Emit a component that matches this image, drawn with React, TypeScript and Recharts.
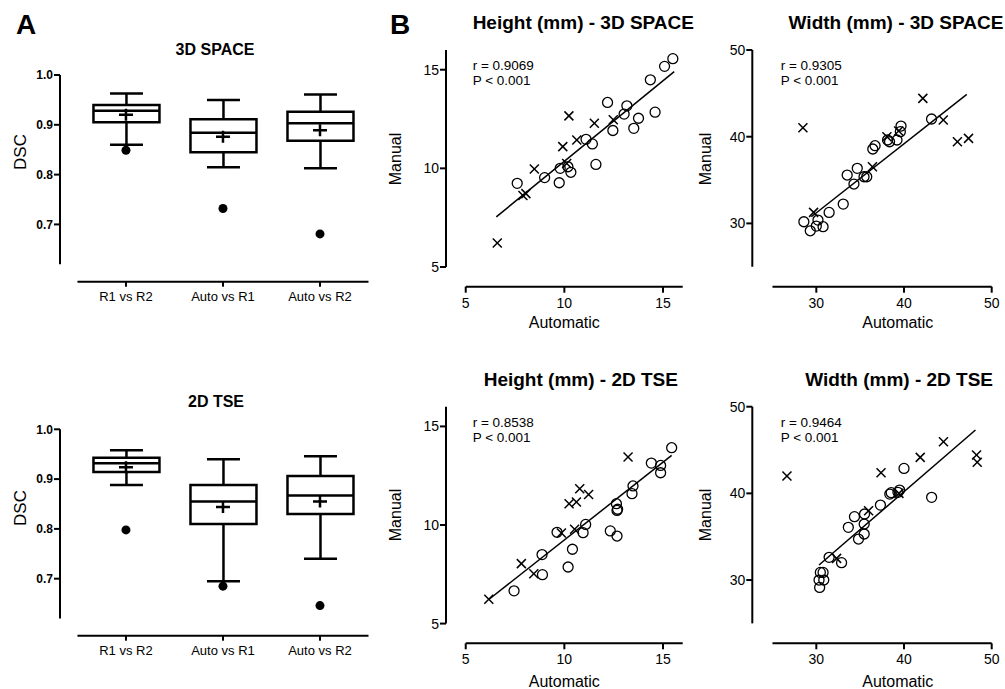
import React from "react";
import { Bar, ComposedChart, ReferenceLine, Scatter, XAxis, YAxis } from "recharts";

const FONT = "'Liberation Sans', Arial, Helvetica, sans-serif";

// ---- panel A: DSC box plots ----
const categories = ["R1 vs R2", "Auto vs R1", "Auto vs R2"];
const catPos = [1, 2, 3];
const dscTicks = [0.7, 0.8, 0.9, 1.0];

const space3dMin = [0.86, 0.815, 0.813];
const space3dQ1 = [0.905, 0.845, 0.868];
const space3dMedian = [0.928, 0.884, 0.903];
const space3dQ3 = [0.94, 0.911, 0.926];
const space3dMax = [0.963, 0.95, 0.961];
const space3dMean = [0.92, 0.876, 0.889];
const space3dOutlier = [0.849, 0.732, 0.681];

const tse2dMin = [0.888, 0.695, 0.74];
const tse2dQ1 = [0.914, 0.81, 0.83];
const tse2dMedian = [0.932, 0.855, 0.867];
const tse2dQ3 = [0.943, 0.888, 0.906];
const tse2dMax = [0.958, 0.94, 0.946];
const tse2dMean = [0.924, 0.844, 0.855];
const tse2dOutlier = [0.798, 0.685, 0.646];

// ---- panel B: automatic vs manual, [automatic, manual] ----
const heightTicks = [5, 10, 15];
const widthTicks = [30, 40, 50];

const h3dCircles = [
  [7.61, 9.24], [9.0, 9.53], [9.74, 9.27], [9.79, 10.0], [10.18, 10.08], [10.33, 9.8],
  [11.1, 11.47], [11.42, 11.24], [11.6, 10.2], [12.19, 13.34], [12.46, 11.92], [13.03, 12.75],
  [13.17, 13.17], [13.52, 12.03], [13.76, 12.54], [14.36, 14.49], [14.6, 12.85], [15.08, 15.17],
  [15.5, 15.56],
];
const h3dCrosses = [
  [6.6, 6.22], [7.9, 8.62], [8.05, 8.72], [8.48, 9.97], [9.92, 11.1], [10.23, 12.66],
  [10.12, 10.25], [10.63, 11.44], [11.52, 12.29], [12.48, 12.46],
];
const h3dFit = [[6.55, 7.54], [15.57, 14.9]];

const w3dCircles = [
  [28.58, 30.19], [29.31, 29.15], [30.0, 29.69], [30.19, 30.38], [30.77, 29.62], [31.46, 31.27],
  [33.07, 32.23], [33.52, 35.58], [34.29, 34.54], [34.67, 36.35], [35.44, 35.38], [35.75, 35.38],
  [36.44, 38.58], [36.7, 38.96], [38.12, 39.62], [38.35, 39.42], [39.2, 39.62], [39.66, 41.23],
  [39.58, 40.58], [43.14, 42.04],
];
const w3dCrosses = [
  [28.47, 41.04], [29.69, 31.27], [36.4, 36.54], [38.05, 40.0], [39.39, 40.65],
  [42.15, 44.42], [44.48, 41.92], [46.09, 39.42], [47.36, 39.81],
];
const w3dFit = [[29.43, 30.77], [47.16, 44.88]];

const h2dCircles = [
  [7.45, 6.66], [8.87, 8.5], [8.89, 7.48], [9.63, 9.63], [10.19, 7.87], [10.41, 8.77],
  [10.95, 9.61], [11.08, 10.03], [12.33, 9.7], [12.67, 9.44], [12.64, 11.08], [12.67, 10.74],
  [12.7, 10.8], [13.43, 11.59], [13.48, 11.98], [14.41, 13.14], [14.88, 13.02], [14.88, 12.65],
  [15.44, 13.92],
];
const h2dCrosses = [
  [6.17, 6.23], [7.82, 8.04], [8.45, 7.53], [9.85, 9.59], [10.24, 11.08], [10.61, 11.17],
  [10.78, 11.84], [11.23, 11.55], [10.52, 9.78], [13.23, 13.45],
];
const h2dFit = [[6.17, 6.22], [15.44, 13.53]];

const w2dCircles = [
  [30.38, 29.15], [30.31, 30.0], [30.46, 30.88], [30.85, 30.0], [30.77, 30.88], [31.46, 32.62],
  [32.88, 32.0], [33.65, 36.08], [34.35, 37.31], [34.81, 34.73], [35.46, 35.31], [35.46, 36.46],
  [35.5, 37.62], [37.31, 38.65], [38.38, 39.92], [38.54, 40.08], [39.31, 40.12], [39.5, 40.38],
  [40.0, 42.88], [43.15, 39.54],
];
const w2dCrosses = [
  [26.65, 42.0], [32.31, 32.5], [35.96, 38.0], [37.38, 42.38], [39.42, 40.0],
  [41.85, 44.15], [44.5, 45.96], [48.27, 44.42], [48.35, 43.58],
];
const w2dFit = [[30.31, 31.73], [48.15, 47.31]];

const BOX_X0 = 0.32;

const boxRows = (mn: number[], q1: number[], md: number[], q3: number[], mx: number[], mean: number[], out: number[]) =>
  catPos.map((p, i) => ({
    pos: p,
    whisker: [mn[i], mx[i]],
    box: [q1[i], q3[i]],
    median: md[i],
    mean: mean[i],
    outlier: out[i],
  }));

const toRows = (pts: number[][]) => pts.map(([x, y]) => ({ x, y }));

function Txt({ x, y, size, bold, rotate, left, children }: any) {
  return (
    <div
      style={{
        position: "absolute",
        left: x,
        top: y,
        transform: `translate(${left ? "0" : "-50%"}, -50%)${rotate ? " rotate(-90deg)" : ""}`,
        fontSize: size,
        fontWeight: bold ? 700 : 400,
        fontFamily: FONT,
        lineHeight: 1,
        whiteSpace: "nowrap",
        color: "#000",
      }}
    >
      {children}
    </div>
  );
}

const Whisker = (props: any) => {
  const { x, y, width, height } = props;
  const cx = x + width / 2;
  const cap = width / 4;
  return (
    <g stroke="#000" strokeWidth={2.5}>
      <line x1={cx} x2={cx} y1={y} y2={y + height} />
      <line x1={cx - cap} x2={cx + cap} y1={y} y2={y} />
      <line x1={cx - cap} x2={cx + cap} y1={y + height} y2={y + height} />
    </g>
  );
};
const MedianMark = ({ cx, cy }: any) => (
  <line x1={cx - 33} x2={cx + 33} y1={cy} y2={cy} stroke="#000" strokeWidth={2.5} />
);
const MeanMark = ({ cx, cy }: any) => (
  <g stroke="#000" strokeWidth={2.5}>
    <line x1={cx - 7} x2={cx + 7} y1={cy} y2={cy} />
    <line x1={cx} x2={cx} y1={cy - 6} y2={cy + 6} />
  </g>
);
const OutlierMark = ({ cx, cy }: any) => <circle cx={cx} cy={cy} r={4.5} fill="#000" />;
const OpenCircle = ({ cx, cy }: any) => <circle cx={cx} cy={cy} r={5} fill="none" stroke="#000" strokeWidth={1.3} />;
const CrossMark = ({ cx, cy }: any) => (
  <g stroke="#000" strokeWidth={1.5}>
    <line x1={cx - 4.5} x2={cx + 4.5} y1={cy - 4.5} y2={cy + 4.5} />
    <line x1={cx - 4.5} x2={cx + 4.5} y1={cy + 4.5} y2={cy - 4.5} />
  </g>
);

function BoxPanel({ left, top, width, height, margin, yDomain, rows }: any) {
  const axisProps = {
    type: "number" as const,
    dataKey: "pos",
    domain: [BOX_X0, 3.5],
    ticks: catPos,
    allowDataOverflow: true,
  };
  return (
    <div style={{ position: "absolute", left, top }}>
      <ComposedChart width={width} height={height} data={rows} margin={margin}>
        <XAxis
          xAxisId="main"
          {...axisProps}
          interval={0}
          tickFormatter={(v: number) => categories[v - 1]}
          axisLine={false}
          tickLine={{ stroke: "#000", strokeWidth: 2 }}
          tickSize={5}
          tickMargin={5}
          tick={{ fill: "#000", fontSize: 13, fontFamily: FONT }}
          height={30}
        />
        <XAxis xAxisId="w" {...axisProps} hide />
        <YAxis
          type="number"
          domain={yDomain}
          ticks={dscTicks}
          allowDataOverflow
          tickFormatter={(v: number) => v.toFixed(1)}
          axisLine={false}
          tickLine={{ stroke: "#000", strokeWidth: 2 }}
          tickSize={6}
          tickMargin={1}
          tick={{ fill: "#000", fontSize: 12, fontWeight: 700, fontFamily: FONT }}
          width={45}
        />
        <ReferenceLine
          xAxisId="main"
          segment={[{ x: 0.5, y: yDomain[0] }, { x: 3.5, y: yDomain[0] }]}
          stroke="#000"
          strokeWidth={2}
          ifOverflow="visible"
        />
        <ReferenceLine
          xAxisId="main"
          segment={[{ x: BOX_X0, y: 0.62 }, { x: BOX_X0, y: 1.0 }]}
          stroke="#000"
          strokeWidth={2}
          ifOverflow="visible"
        />
        <Bar xAxisId="w" dataKey="whisker" barSize={66} shape={Whisker} isAnimationActive={false} />
        <Bar xAxisId="main" dataKey="box" barSize={66} fill="#fff" stroke="#000" strokeWidth={2.5} isAnimationActive={false} />
        <Scatter xAxisId="main" dataKey="median" shape={MedianMark} isAnimationActive={false} />
        <Scatter xAxisId="main" dataKey="mean" shape={MeanMark} isAnimationActive={false} />
        <Scatter xAxisId="main" dataKey="outlier" shape={OutlierMark} isAnimationActive={false} />
      </ComposedChart>
    </div>
  );
}

function ScatterPanel({ left, top, width, height, margin, domain, ticks, axisStart, circles, crosses, fit }: any) {
  const tickStyle = { fill: "#000", fontSize: 14, fontFamily: FONT };
  return (
    <div style={{ position: "absolute", left, top }}>
      <ComposedChart width={width} height={height} margin={margin}>
        <XAxis
          type="number"
          dataKey="x"
          domain={domain}
          ticks={ticks}
          allowDataOverflow
          axisLine={false}
          tickLine={{ stroke: "#000", strokeWidth: 2 }}
          tickSize={6}
          tickMargin={5}
          tick={tickStyle}
          height={30}
        />
        <YAxis
          type="number"
          dataKey="y"
          domain={domain}
          ticks={ticks}
          allowDataOverflow
          axisLine={false}
          tickLine={{ stroke: "#000", strokeWidth: 2 }}
          tickSize={6}
          tickMargin={1}
          tick={tickStyle}
          width={40}
        />
        <ReferenceLine
          segment={[{ x: axisStart, y: domain[0] }, { x: domain[1], y: domain[0] }]}
          stroke="#000"
          strokeWidth={2}
          ifOverflow="visible"
        />
        <ReferenceLine
          segment={[{ x: domain[0], y: axisStart }, { x: domain[0], y: domain[1] }]}
          stroke="#000"
          strokeWidth={2}
          ifOverflow="visible"
        />
        <Scatter data={toRows(fit)} dataKey="y" line={{ stroke: "#000", strokeWidth: 1.5 }} shape={() => <g />} isAnimationActive={false} />
        <Scatter data={toRows(circles)} dataKey="y" shape={OpenCircle} isAnimationActive={false} />
        <Scatter data={toRows(crosses)} dataKey="y" shape={CrossMark} isAnimationActive={false} />
      </ComposedChart>
    </div>
  );
}

export default function App() {
  return (
    <div style={{ position: "absolute", left: 0, top: 0, width: 1005, height: 689, background: "#fff", overflow: "hidden" }}>
      <BoxPanel
        left={0}
        top={0}
        width={380}
        height={340}
        margin={{ top: 75, right: 11.5, bottom: 28.3, left: 15 }}
        yDomain={[0.585, 1.0]}
        rows={boxRows(space3dMin, space3dQ1, space3dMedian, space3dQ3, space3dMax, space3dMean, space3dOutlier)}
      />
      <BoxPanel
        left={0}
        top={340}
        width={380}
        height={349}
        margin={{ top: 89.3, right: 11.5, bottom: 23.3, left: 15 }}
        yDomain={[0.5855, 1.0]}
        rows={boxRows(tse2dMin, tse2dQ1, tse2dMedian, tse2dQ3, tse2dMax, tse2dMean, tse2dOutlier)}
      />
      <ScatterPanel
        left={380}
        top={0}
        width={310}
        height={340}
        margin={{ top: 50, right: 7.3, bottom: 23.3, left: 26 }}
        domain={[4, 16]}
        ticks={heightTicks}
        axisStart={5}
        circles={h3dCircles}
        crosses={h3dCrosses}
        fit={h3dFit}
      />
      <ScatterPanel
        left={690}
        top={0}
        width={315}
        height={340}
        margin={{ top: 50, right: 13.3, bottom: 23.3, left: 22.3 }}
        domain={[22.7, 50]}
        ticks={widthTicks}
        axisStart={25}
        circles={w3dCircles}
        crosses={w3dCrosses}
        fit={w3dFit}
      />
      <ScatterPanel
        left={380}
        top={340}
        width={310}
        height={349}
        margin={{ top: 66.7, right: 7.3, bottom: 15.7, left: 26 }}
        domain={[4, 16]}
        ticks={heightTicks}
        axisStart={5}
        circles={h2dCircles}
        crosses={h2dCrosses}
        fit={h2dFit}
      />
      <ScatterPanel
        left={690}
        top={340}
        width={315}
        height={349}
        margin={{ top: 66.7, right: 13.3, bottom: 15.7, left: 22.3 }}
        domain={[22.7, 50]}
        ticks={widthTicks}
        axisStart={25}
        circles={w2dCircles}
        crosses={w2dCrosses}
        fit={w2dFit}
      />

      <Txt x={26} y={25} size={28} bold>A</Txt>
      <Txt x={400} y={25} size={28} bold>B</Txt>

      <Txt x={215} y={49.5} size={16} bold>3D SPACE</Txt>
      <Txt x={216} y={401.7} size={16} bold>2D TSE</Txt>
      <Txt x={19.5} y={152} size={17} rotate>DSC</Txt>
      <Txt x={19.5} y={508} size={17} rotate>DSC</Txt>

      <Txt x={583.3} y={21.7} size={19} bold>Height (mm) - 3D SPACE</Txt>
      <Txt x={896} y={21.7} size={19} bold>Width (mm) - 3D SPACE</Txt>
      <Txt x={580.8} y={379.3} size={19} bold>Height (mm) - 2D TSE</Txt>
      <Txt x={899.2} y={379.3} size={19} bold>Width (mm) - 2D TSE</Txt>

      <Txt x={396} y={158.5} size={16} rotate>Manual</Txt>
      <Txt x={706} y={158.5} size={16} rotate>Manual</Txt>
      <Txt x={396} y={515} size={16} rotate>Manual</Txt>
      <Txt x={706} y={515} size={16} rotate>Manual</Txt>

      <Txt x={564.3} y={323.3} size={16}>Automatic</Txt>
      <Txt x={897.8} y={323.3} size={16}>Automatic</Txt>
      <Txt x={564.3} y={681.7} size={16}>Automatic</Txt>
      <Txt x={897.8} y={681.7} size={16}>Automatic</Txt>

      <Txt x={472.7} y={66} size={13.5} left>r = 0.9069</Txt>
      <Txt x={472.7} y={81} size={13.5} left>P &lt; 0.001</Txt>
      <Txt x={780.7} y={66} size={13.5} left>r = 0.9305</Txt>
      <Txt x={780.7} y={81} size={13.5} left>P &lt; 0.001</Txt>
      <Txt x={472.7} y={422.7} size={13.5} left>r = 0.8538</Txt>
      <Txt x={472.7} y={437.7} size={13.5} left>P &lt; 0.001</Txt>
      <Txt x={780.7} y={422.7} size={13.5} left>r = 0.9464</Txt>
      <Txt x={780.7} y={437.7} size={13.5} left>P &lt; 0.001</Txt>
    </div>
  );
}
